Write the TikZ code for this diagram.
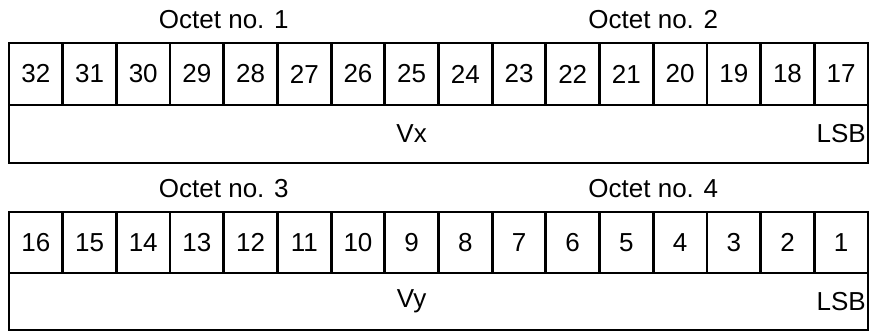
\documentclass[tikz,border=0pt]{standalone}
\usepackage{fontspec}
\setmainfont{Liberation Sans}
\begin{document}
\begin{tikzpicture}[x=1pt,y=-1pt,
  cellbox/.style={draw=black,line width=2.8pt,rectangle,inner sep=0pt,outer sep=0pt,
    minimum width=53.6875pt,minimum height=#1},
  widebox/.style={draw=black,line width=2.8pt,rectangle,inner sep=0pt,outer sep=0pt,
    minimum width=859pt,minimum height=#1},
  lbl/.style={inner sep=0pt,font=\fontsize{26}{30}\selectfont},
]
\useasboundingbox (0,0) rectangle (874,331);
\def\cw{53.6875}
% block 1
\node[widebox=58pt] (w1) at (438.5,134) {};
\foreach \i [evaluate=\i as \n using int(33-\i)] in {1,...,16}{
  \node[cellbox=62pt,lbl] (c\n) at ({9+(\i-0.5)*\cw},74) {\n};
}
\node[lbl] (o1) at (223.75,20) {Octet no. 1};
\node[lbl] (o2) at (653.25,20) {Octet no. 2};
\node[lbl] (vx) at (c25 |- w1) {Vx};
\node[lbl] (lsb1) at (c17 |- w1) {LSB};
% block 2
\node[widebox=57pt] (w2) at (438.5,301.5) {};
\foreach \i [evaluate=\i as \n using int(17-\i)] in {1,...,16}{
  \node[cellbox=61pt,lbl] (d\n) at ({9+(\i-0.5)*\cw},242.5) {\n};
}
\node[lbl] (o3) at (223.75,189) {Octet no. 3};
\node[lbl] (o4) at (653.25,189) {Octet no. 4};
\node[lbl] (vy) at (d9 |- w2) {Vy};
\node[lbl] (lsb2) at (d1 |- w2) {LSB};
\end{tikzpicture}
\end{document}
